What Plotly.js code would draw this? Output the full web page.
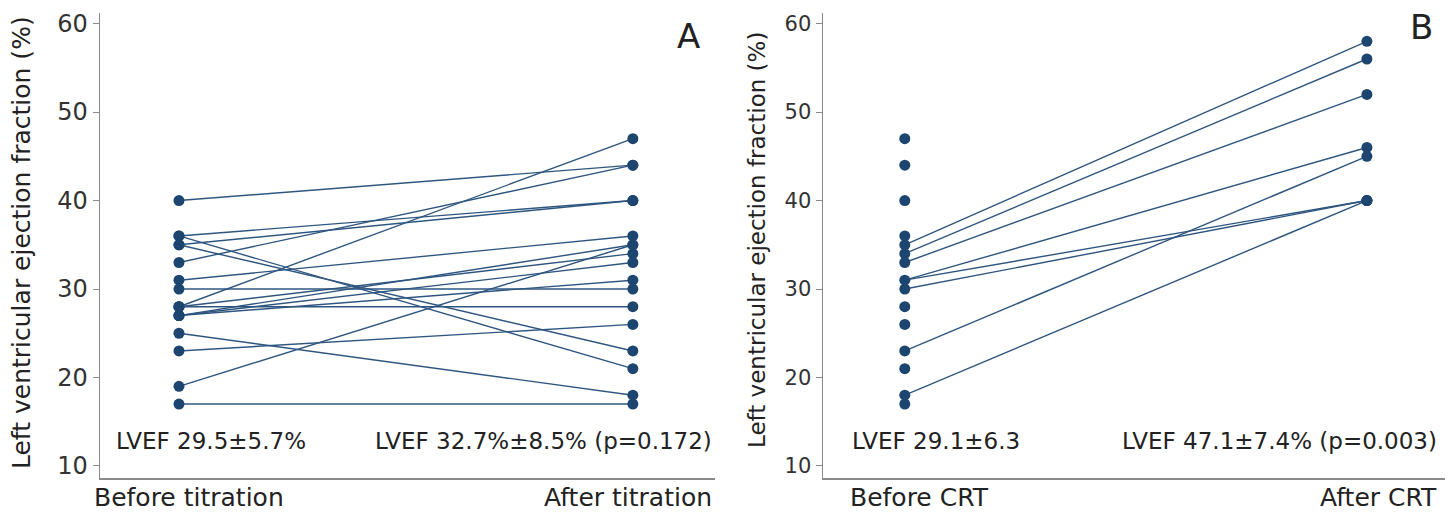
<!DOCTYPE html>
<html>
<head>
<meta charset="utf-8">
<script src="https://cdn.plot.ly/plotly-3.0.1.min.js"></script>
<style>html,body{margin:0;padding:0;background:#fff;}#chart{width:1450px;height:517px;}</style>
</head>
<body>
<div id="chart"></div>
<script>
// Panel A: LVEF before and after titration (paired)
const beforeTitration = [40, 36, 36, 35, 35, 33, 31, 30, 28, 28, 28, 27, 27, 27, 25, 23, 19, 17];
const afterTitration  = [44, 40, 21, 40, 23, 44, 36, 30, 47, 34, 28, 35, 33, 31, 18, 26, 35, 17];
// Panel B: LVEF before CRT (all) and paired before/after CRT
const beforeCRTAll    = [47, 44, 40, 36, 35, 34, 33, 31, 30, 28, 26, 23, 21, 18, 17];
const beforeCRTPaired = [35, 34, 33, 31, 31, 30, 23, 18];
const afterCRTPaired  = [58, 56, 52, 46, 40, 40, 45, 40];
const categoriesA = ["Before titration", "After titration"];
const categoriesB = ["Before CRT", "After CRT"];
const statsA = ["LVEF 29.5±5.7%", "LVEF 32.7%±8.5% (p=0.172)"];
const statsB = ["LVEF 29.1±6.3", "LVEF 47.1±7.4% (p=0.003)"];
const yTicks = [10, 20, 30, 40, 50, 60];

const navy = "#1c4670";
const lineCol = "#2f5680";

function pairXY(b, a) {
  const xs = [], ys = [];
  for (let i = 0; i < b.length; i++) {
    xs.push(0, 1, null);
    ys.push(b[i], a[i], null);
  }
  return {xs, ys};
}
const pA = pairXY(beforeTitration, afterTitration);
const pB = pairXY(beforeCRTPaired, afterCRTPaired);

const traces = [
  {x: pA.xs, y: pA.ys, xaxis: "x", yaxis: "y", mode: "lines+markers", type: "scatter",
   line: {color: lineCol, width: 1.4}, marker: {color: navy, size: 11}, hoverinfo: "skip", showlegend: false},
  {x: pB.xs, y: pB.ys, xaxis: "x2", yaxis: "y2", mode: "lines", type: "scatter",
   line: {color: lineCol, width: 1.4}, hoverinfo: "skip", showlegend: false},
  {x: beforeCRTAll.map(() => 0), y: beforeCRTAll, xaxis: "x2", yaxis: "y2", mode: "markers", type: "scatter",
   marker: {color: navy, size: 11}, hoverinfo: "skip", showlegend: false},
  {x: afterCRTPaired.map(() => 1), y: afterCRTPaired, xaxis: "x2", yaxis: "y2", mode: "markers", type: "scatter",
   marker: {color: navy, size: 11}, hoverinfo: "skip", showlegend: false}
];

const FONT = "DejaVu Sans, Verdana, sans-serif";
const axisGray = "#8a8a8a";
const yTitle = "Left ventricular ejection fraction (%)";
const yDomain = [1 - 478/517, 1 - 13/517];

function yAxis(anchor, tsize) {
  return {
    domain: yDomain, anchor: anchor, range: [8.64, 61.2],
    tickvals: yTicks, ticks: "outside", ticklen: 6, tickcolor: axisGray, tickwidth: 1,
    showgrid: false, zeroline: false, showline: true, linecolor: axisGray, linewidth: 1.5,
    tickfont: {family: FONT, size: tsize, color: "#333"}
  };
}
function xAxis(domain, range, anchor) {
  return {
    domain: domain, anchor: anchor, range: range,
    showticklabels: false, ticks: "", showgrid: false, zeroline: false,
    showline: true, linecolor: axisGray, linewidth: 1.5
  };
}

function ann(text, xpx, ypx, anchor, size, angle) {
  const a = {text: text, xref: "paper", yref: "paper", x: xpx/1450, y: 1 - ypx/517,
          xanchor: anchor, yanchor: "middle", showarrow: false,
          font: {family: FONT, size: size, color: "#222"}};
  if (angle !== undefined) a.textangle = angle;
  return a;
}

const layout = {
  width: 1450, height: 517,
  margin: {l: 0, r: 0, t: 0, b: 0},
  paper_bgcolor: "#fff", plot_bgcolor: "#fff",
  xaxis: xAxis([100/1450, 715/1450], [-0.174, 1.181], "y"),
  yaxis: yAxis("x", 24),
  xaxis2: xAxis([823/1450, 1445/1450], [-0.177, 1.169], "y2"),
  yaxis2: yAxis("x2", 21),
  annotations: [
    ann(yTitle, 22, 243, "center", 25, -90),
    ann(yTitle, 757, 240, "center", 23, -90),
    ann(categoriesA[0], 92, 497, "left", 25),
    ann(categoriesA[1], 714, 497, "right", 25),
    ann(categoriesB[0], 848, 497, "left", 25),
    ann(categoriesB[1], 1439, 497, "right", 25),
    ann(statsA[0], 114, 441, "left", 23),
    ann(statsA[1], 714, 441, "right", 23),
    ann(statsB[0], 850, 441, "left", 23),
    ann(statsB[1], 1439, 441, "right", 23),
    ann("A", 688, 36, "center", 34),
    ann("B", 1421, 27, "center", 34)
  ]
};

Plotly.newPlot("chart", traces, layout, {staticPlot: true, displayModeBar: false});
</script>
</body>
</html>
